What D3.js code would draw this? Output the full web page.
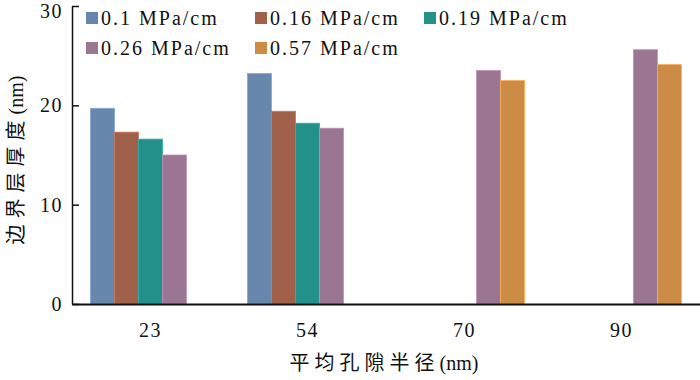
<!DOCTYPE html>
<html>
<head>
<meta charset="utf-8">
<script src="https://cdn.jsdelivr.net/npm/d3@7"></script>
<style>
  body { margin: 0; background: #fff; }
  svg { display: block; }
</style>
</head>
<body>
<svg id="chart" width="700" height="380"></svg>
<script>
// data
const categories = ["23", "54", "70", "90"];
const seriesNames = ["0.1 MPa/cm", "0.16 MPa/cm", "0.19 MPa/cm", "0.26 MPa/cm", "0.57 MPa/cm"];
const seriesColors = ["#6787ad", "#a0604a", "#23908a", "#9b7693", "#cd8c45"];
const s01 = [19.7, 23.2, null, null];
const s016 = [17.3, 19.4, null, null];
const s019 = [16.6, 18.2, null, null];
const s026 = [15.0, 17.7, 23.5, 25.6];
const s057 = [null, null, 22.5, 24.1];
const seriesValues = [s01, s016, s019, s026, s057];
const yTicks = [0, 10, 20, 30];

const SERIF = "'Liberation Serif', 'Times New Roman', serif";
const CJK = "'Noto Sans CJK SC', sans-serif";

const svg = d3.select("#chart");
const margin = { top: 6, right: 0, bottom: 76, left: 72 };
const width = 700 - margin.left - margin.right;
const height = 380 - margin.top - margin.bottom;

const g = svg.append("g").attr("transform", `translate(${margin.left},${margin.top})`);

const x = d3.scaleBand().domain(categories).range([0, width]).paddingInner(0).paddingOuter(0);
const xInner = d3.scaleBand().domain(d3.range(seriesNames.length))
  .range([0, x.bandwidth()]).paddingOuter(0.77).paddingInner(0);
const y = d3.scaleLinear().domain([0, 30]).range([height, 0]);

// bars
seriesValues.forEach((vals, si) => {
  g.selectAll(".bar-" + si)
    .data(vals.map((v, ci) => ({ cat: categories[ci], v: v })).filter(d => d.v != null))
    .enter().append("rect")
    .attr("class", "bar-" + si)
    .attr("x", d => x(d.cat) + xInner(si))
    .attr("y", d => y(d.v))
    .attr("width", xInner.bandwidth())
    .attr("height", d => height - y(d.v))
    .attr("fill", seriesColors[si])
    .attr("stroke", d3.color(seriesColors[si]).brighter(0.6))
    .attr("stroke-width", 0.8);
});

// y axis
const yAxis = g.append("g")
  .call(d3.axisLeft(y).tickValues(yTicks).tickSize(-7).tickSizeOuter(0).tickPadding(9));
yAxis.select(".domain").attr("stroke", "#111").attr("stroke-width", 1.5);
yAxis.selectAll(".tick line").attr("stroke", "#111").attr("stroke-width", 1.5);
yAxis.selectAll(".tick text")
  .style("font-family", SERIF).style("fill", "#111")
  .style("font-size", "20px").style("letter-spacing", "1.5px").attr("x", -9)
  .attr("dy", d => d === 30 ? "0.55em" : "0.32em");

// x axis
const xAxis = g.append("g").attr("transform", `translate(0,${height})`)
  .call(d3.axisBottom(x).tickSize(0).tickSizeOuter(0).tickPadding(19));
xAxis.select(".domain").attr("stroke", "#111").attr("stroke-width", 2);
xAxis.selectAll(".tick text")
  .style("font-family", SERIF).style("fill", "#111")
  .style("font-size", "20px").style("letter-spacing", "1.5px");

// axis titles
svg.append("text")
  .attr("transform", "translate(23,160) rotate(-90)")
  .attr("text-anchor", "middle")
  .style("font-family", SERIF).style("fill", "#111").style("font-size", "20px")
  .html(`<tspan style="font-family:${CJK};letter-spacing:6px;font-size:20px">边界层厚度</tspan><tspan>(nm)</tspan>`);

svg.append("text")
  .attr("x", 384).attr("y", 370)
  .attr("text-anchor", "middle")
  .style("font-family", SERIF).style("fill", "#111").style("font-size", "20px")
  .html(`<tspan style="font-family:${CJK};letter-spacing:5px;font-size:20px">平均孔隙半径</tspan><tspan>(nm)</tspan>`);

// legend
const legendPos = [[86, 18], [255, 18], [424, 18], [86, 48], [255, 48]];
const legend = svg.append("g");
seriesNames.forEach((name, i) => {
  const item = legend.append("g").attr("transform", `translate(${legendPos[i][0]},${legendPos[i][1]})`);
  item.append("rect").attr("x", 0).attr("y", -6).attr("width", 12).attr("height", 12)
    .attr("fill", seriesColors[i]);
  item.append("text")
    .attr("x", 15).attr("y", 0).attr("dy", "0.35em")
    .style("font-family", SERIF).style("fill", "#111")
    .style("font-size", "20px").style("letter-spacing", "2px")
    .text(name);
});
</script>
</body>
</html>
